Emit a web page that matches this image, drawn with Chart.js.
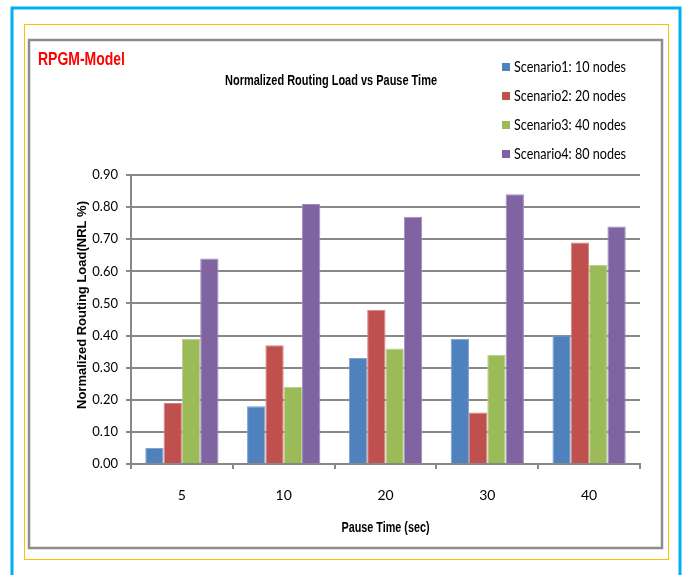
<!DOCTYPE html>
<html>
<head>
<meta charset="utf-8">
<script src="https://cdn.jsdelivr.net/npm/chart.js@4"></script>
<style>
  html, body { margin: 0; padding: 0; background: #ffffff; }
  #wrap { width: 683px; height: 575px; position: relative; }
</style>
</head>
<body>
<div id="wrap"><canvas id="c" width="683" height="575"></canvas></div>
<script>
// Pause time categories (sec)
const pauseTimes = ['5', '10', '20', '30', '40'];

// Normalized routing load per scenario
const scenario1 = [0.05, 0.18, 0.33, 0.39, 0.40];
const scenario2 = [0.19, 0.37, 0.48, 0.16, 0.69];
const scenario3 = [0.39, 0.24, 0.36, 0.34, 0.62];
const scenario4 = [0.64, 0.81, 0.77, 0.84, 0.74];

const seriesNames = ['Scenario1: 10 nodes', 'Scenario2: 20 nodes', 'Scenario3: 40 nodes', 'Scenario4: 80 nodes'];
const seriesColors = ['#4F81BD', '#C0504D', '#9BBB59', '#8064A2'];
const seriesEdges = ['#7FA3D3', '#D88380', '#B8D089', '#A08CC0'];

const chartTitle = 'Normalized Routing Load vs Pause Time';
const modelLabel = 'RPGM-Model';
const yTitle = 'Normalized Routing Load(NRL %)';
const xTitle = 'Pause Time (sec)';

const SANS = '"Liberation Sans", Arial, sans-serif';
const LABEL_FONT = 'Lato, "Open Sans", sans-serif';

// Draws a line of text squeezed horizontally to a given width (condensed look)
function fittedText(ctx, text, x, y, font, width, align) {
  ctx.save();
  ctx.font = font;
  const w = ctx.measureText(text).width;
  const sx = width / w;
  ctx.translate(x, y);
  ctx.scale(sx, 1);
  ctx.textAlign = align;
  ctx.textBaseline = 'middle';
  ctx.fillText(text, 0, 0);
  ctx.restore();
}

// Page frame, heading texts, axis titles and the legend block
const framePlugin = {
  id: 'frame',
  beforeDraw(chart) {
    const ctx = chart.ctx;
    ctx.save();
    ctx.fillStyle = '#ffffff';
    ctx.fillRect(0, 0, chart.width, chart.height);
    // outer blue frame (open at the bottom)
    ctx.strokeStyle = '#00B0F0';
    ctx.lineWidth = 3;
    ctx.beginPath();
    ctx.moveTo(12, 580);
    ctx.lineTo(12, 8);
    ctx.lineTo(680, 8);
    ctx.lineTo(680, 580);
    ctx.stroke();
    // thin gold frame
    ctx.strokeStyle = '#FFC000';
    ctx.lineWidth = 1;
    ctx.strokeRect(24.5, 24.5, 644, 535);
    // grey chart border
    ctx.strokeStyle = '#8C8C8C';
    ctx.lineWidth = 2.5;
    ctx.strokeRect(29, 40, 633, 508);
    ctx.restore();
  },
  afterDraw(chart) {
    const ctx = chart.ctx;
    const area = chart.chartArea;
    ctx.save();
    // model label
    ctx.fillStyle = '#FF0000';
    fittedText(ctx, modelLabel, 38, 60, 'bold 19px ' + SANS, 87, 'left');
    // chart heading
    ctx.fillStyle = '#000000';
    fittedText(ctx, chartTitle, 331, 81, 'bold 15px ' + SANS, 212, 'center');
    // x axis title
    fittedText(ctx, xTitle, (area.left + area.right) / 2, 528, 'bold 14px ' + SANS, 88, 'center');
    // y axis title, rotated
    ctx.save();
    ctx.translate(82, 305);
    ctx.rotate(-Math.PI / 2);
    ctx.font = 'bold 13px ' + SANS;
    ctx.textAlign = 'center';
    ctx.textBaseline = 'middle';
    ctx.fillText(yTitle, 0, 0);
    ctx.restore();
    // legend, entries share one horizontal squeeze
    const legendFont = '15px ' + LABEL_FONT;
    ctx.font = legendFont;
    const squeeze = 112 / ctx.measureText(chart.data.datasets[0].label).width;
    chart.data.datasets.forEach((ds, i) => {
      const y = 67 + i * 29;
      ctx.fillStyle = ds.backgroundColor;
      ctx.fillRect(502, y - 4, 8, 8);
      ctx.fillStyle = '#000000';
      ctx.font = legendFont;
      const w = ctx.measureText(ds.label).width * squeeze;
      fittedText(ctx, ds.label, 514, y, legendFont, w, 'left');
    });
    ctx.restore();
  }
};

const datasets = [scenario1, scenario2, scenario3, scenario4].map((vals, i) => ({
  label: seriesNames[i],
  data: vals,
  backgroundColor: seriesColors[i],
  borderColor: seriesEdges[i],
  borderWidth: 1,
  categoryPercentage: 0.72,
  barPercentage: 1.0
}));

new Chart(document.getElementById('c'), {
  type: 'bar',
  data: { labels: pauseTimes, datasets: datasets },
  plugins: [framePlugin],
  options: {
    responsive: false,
    animation: false,
    layout: { padding: { top: 175, left: 0, right: 43, bottom: 0 } },
    plugins: {
      legend: { display: false },
      title: { display: false },
      tooltip: { enabled: false }
    },
    scales: {
      x: {
        afterFit(scale) { scale.height = 111; },
        grid: {
          display: true,
          drawOnChartArea: false,
          drawTicks: true,
          tickLength: 5,
          color: '#888888',
          lineWidth: 2,
          offset: true
        },
        border: { display: true, color: '#888888', width: 2 },
        ticks: {
          color: '#000000',
          font: { family: LABEL_FONT, size: 14 },
          padding: 18
        },
        title: { display: false, text: xTitle }
      },
      y: {
        min: 0,
        max: 0.9,
        afterFit(scale) { scale.width = 131; },
        grid: {
          color: '#888888',
          lineWidth: 2,
          tickLength: 5
        },
        border: { display: true, color: '#888888', width: 2 },
        ticks: {
          stepSize: 0.1,
          color: '#000000',
          font: { family: LABEL_FONT, size: 13 },
          padding: 8,
          callback: (v) => Number(v).toFixed(2)
        },
        title: { display: false, text: yTitle }
      }
    }
  }
});
</script>
</body>
</html>
